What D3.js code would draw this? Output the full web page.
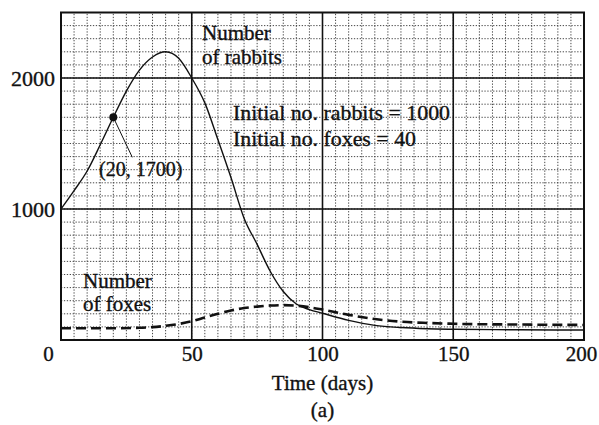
<!DOCTYPE html>
<html>
<head>
<meta charset="utf-8">
<script src="https://cdn.jsdelivr.net/npm/d3@7/dist/d3.min.js"></script>
<style>
  html, body { margin: 0; padding: 0; background: #fff; }
  svg text { font-family: "Liberation Serif", "Times New Roman", serif; fill: #111; stroke: #111; stroke-width: 0.35px; }
</style>
</head>
<body>
<svg id="chart" width="599" height="425"></svg>
<script>
// ---- data ----
const rabbitDays   = [0, 5, 10, 15, 20, 25, 30, 35, 40, 45, 50, 55, 60, 65, 70, 75, 80, 85, 90, 95, 100, 110, 120, 130, 140, 150, 175, 200];
const rabbitValues = [1000, 1140, 1290, 1490, 1700, 1900, 2060, 2160, 2200, 2150, 2000, 1810, 1530, 1240, 930, 730, 525, 370, 275, 232, 204, 150, 112, 95, 86, 82, 78, 76];
const foxDays      = [0, 10, 20, 30, 35, 40, 45, 50, 55, 60, 65, 70, 75, 80, 85, 90, 95, 100, 110, 120, 130, 140, 150, 175, 200];
const foxValues    = [90, 90, 90, 93, 98, 108, 122, 143, 172, 200, 225, 244, 255, 263, 266, 262, 250, 232, 192, 160, 140, 130, 124, 118, 115];
const xTicks = [0, 50, 100, 150, 200];
const yTicks = [1000, 2000];
const xMinor = d3.range(0, 201, 5);
const yMinor = d3.range(0, 2501, 100);
const xMajor = [50, 100, 150];
const yMajor = [1000, 2000];
const marked = { day: 20, value: 1700, label: "(20, 1700)" };
const xTitle = "Time (days)";
const caption = "(a)";
const notes = ["Initial no. rabbits = 1000", "Initial no. foxes = 40"];

// ---- layout ----
const svg = d3.select("#chart");
const x = d3.scaleLinear().domain([0, 200]).range([61, 584]);
const y = d3.scaleLinear().domain([0, 2500]).range([340, 12.5]);

// minor grid
const grid = svg.append("g");
grid.selectAll("line.vm").data(xMinor).join("line")
  .attr("x1", d => x(d)).attr("x2", d => x(d))
  .attr("y1", y(0)).attr("y2", y(2500))
  .attr("stroke", "#333").attr("stroke-width", 0.9).attr("stroke-dasharray", "1.3,1.6");
grid.selectAll("line.hm").data(yMinor).join("line")
  .attr("y1", d => y(d)).attr("y2", d => y(d))
  .attr("x1", x(0)).attr("x2", x(200))
  .attr("stroke", "#333").attr("stroke-width", 0.9).attr("stroke-dasharray", "1.3,1.6");
// major grid
grid.selectAll("line.vM").data(xMajor).join("line")
  .attr("x1", d => x(d)).attr("x2", d => x(d))
  .attr("y1", y(0)).attr("y2", y(2500))
  .attr("stroke", "#111").attr("stroke-width", 1.6);
grid.selectAll("line.hM").data(yMajor).join("line")
  .attr("y1", d => y(d)).attr("y2", d => y(d))
  .attr("x1", x(0)).attr("x2", x(200))
  .attr("stroke", "#111").attr("stroke-width", 1.6);
// frame
svg.append("rect")
  .attr("x", x(0)).attr("y", y(2500))
  .attr("width", x(200) - x(0)).attr("height", y(0) - y(2500))
  .attr("fill", "none").attr("stroke", "#111").attr("stroke-width", 2);

// axes (labels only)
const xAxis = svg.append("g").attr("transform", `translate(0,${y(0)})`)
  .call(d3.axisBottom(x).tickValues(xTicks).tickSize(0).tickPadding(6).tickFormat(d3.format("d")));
xAxis.select(".domain").remove();
xAxis.selectAll("text").attr("font-size", 21).attr("fill", "#111")
  .attr("font-family", "Liberation Serif, serif")
  .attr("dx", d => d === 0 ? -13 : (d === 200 ? -3 : 0));

const yAxis = svg.append("g").attr("transform", `translate(${x(0)},0)`)
  .call(d3.axisLeft(y).tickValues(yTicks).tickSize(0).tickPadding(6).tickFormat(d3.format("d")));
yAxis.select(".domain").remove();
yAxis.selectAll("text").attr("font-size", 22).attr("fill", "#111")
  .attr("font-family", "Liberation Serif, serif");

// curves
const line = d3.line().x(d => x(d[0])).y(d => y(d[1])).curve(d3.curveMonotoneX);
svg.append("path")
  .datum(d3.zip(rabbitDays, rabbitValues))
  .attr("d", line).attr("fill", "none").attr("stroke", "#111").attr("stroke-width", 1.4);
svg.append("path")
  .datum(d3.zip(foxDays, foxValues))
  .attr("d", line).attr("fill", "none").attr("stroke", "#111").attr("stroke-width", 2.6)
  .attr("stroke-dasharray", "10,5");

// marked point
svg.append("circle").attr("cx", x(marked.day)).attr("cy", y(marked.value)).attr("r", 4).attr("fill", "#111");
svg.append("line")
  .attr("x1", x(marked.day)).attr("y1", y(marked.value))
  .attr("x2", x(marked.day) + 19).attr("y2", y(marked.value) + 40)
  .attr("stroke", "#111").attr("stroke-width", 1);
svg.append("text").attr("x", 99).attr("y", 176).attr("font-size", 20).text(marked.label);

// labels
const lab = svg.append("g").attr("font-size", 21);
lab.append("text").attr("x", 202).attr("y", 40).text("Number");
lab.append("text").attr("x", 202).attr("y", 64).text("of rabbits");
lab.append("text").attr("x", 233).attr("y", 120).attr("textLength", 217).attr("lengthAdjust", "spacingAndGlyphs").text(notes[0]);
lab.append("text").attr("x", 233).attr("y", 146).attr("textLength", 183).attr("lengthAdjust", "spacingAndGlyphs").text(notes[1]);
lab.append("text").attr("x", 83).attr("y", 288).text("Number");
lab.append("text").attr("x", 83).attr("y", 311).text("of foxes");

svg.append("text").attr("x", x(100)).attr("y", 390).attr("text-anchor", "middle").attr("font-size", 21).text(xTitle);
svg.append("text").attr("x", x(100)).attr("y", 417).attr("text-anchor", "middle").attr("font-size", 21).text(caption);
</script>
</body>
</html>
